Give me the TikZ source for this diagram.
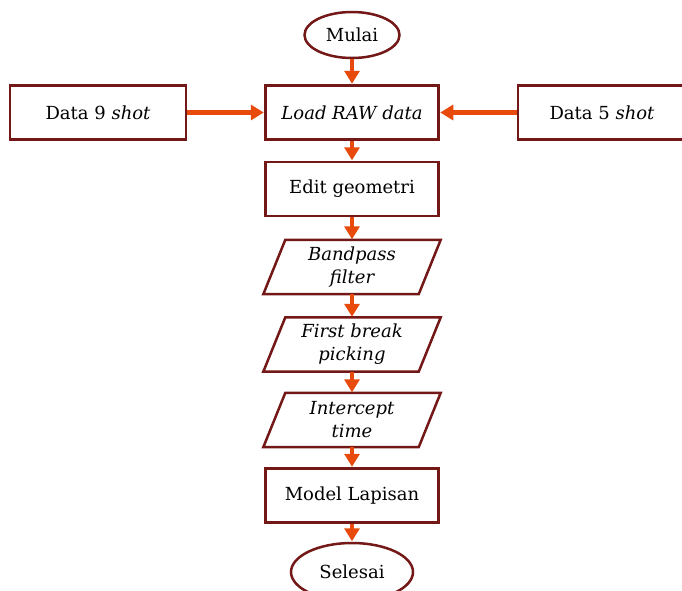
\documentclass[tikz,border=0pt]{standalone}
\usepackage{fontspec}
\setmainfont{DejaVu Serif}
\usetikzlibrary{shapes.geometric,arrows.meta}
\definecolor{bord}{HTML}{731717}
\definecolor{arr}{HTML}{E84A0C}
\begin{document}
\begin{tikzpicture}[x=1pt,y=-1pt,
  every node/.style={font=\fontsize{18}{23}\selectfont, align=center, inner sep=0pt},
  box/.style={draw=bord, line width=2.5pt, minimum width=173pt, minimum height=54pt},
  para/.style={minimum width=173pt, minimum height=54pt},
  term/.style={draw=bord, line width=2.5pt, ellipse, minimum width=95pt, minimum height=46pt},
  flow/.style={draw=arr, line width=4.6pt, -{Triangle[length=13pt,width=15pt]}, shorten >=0.5pt}
]
\useasboundingbox (0,0) rectangle (682,590);
\node[term] (mulai) at (352,35) {Mulai};
\node[box] (load) at (352,112.5) {\itshape Load RAW data};
\node[box, minimum width=176pt] (d9) at (98,112.5) {Data 9 \itshape shot};
\node[box, minimum width=168pt] (d5) at (602,112.5) {Data 5 \itshape shot};
\node[box] (edit) at (352,189) {Edit geometri};
\node[para] (band) at (352,267) {\itshape Bandpass\\\itshape filter};
\node[para] (first) at (352,344.5) {\itshape First break\\\itshape picking};
\node[para] (inter) at (352,420) {\itshape Intercept\\\itshape time};
\node[box] (model) at (352,495.5) {Model Lapisan};
\node[term, minimum width=122pt, minimum height=58pt] (sel) at (352,572) {Selesai};
\foreach \n in {band,first,inter}{
  \draw[bord, line width=2.5pt, line join=miter]
    ([xshift=20pt]\n.north west) -- ([xshift=2pt]\n.north east) -- ([xshift=-20pt]\n.south east) -- ([xshift=-2pt]\n.south west) -- cycle;
}
\draw[flow] (mulai) -- (load);
\draw[flow] (d9) -- (load);
\draw[flow] (d5) -- (load);
\draw[flow] (load) -- (edit);
\draw[flow] (edit) -- (band);
\draw[flow] (band) -- (first);
\draw[flow] (first) -- (inter);
\draw[flow] (inter) -- (model);
\draw[flow] (model) -- (sel);
\end{tikzpicture}
\end{document}
